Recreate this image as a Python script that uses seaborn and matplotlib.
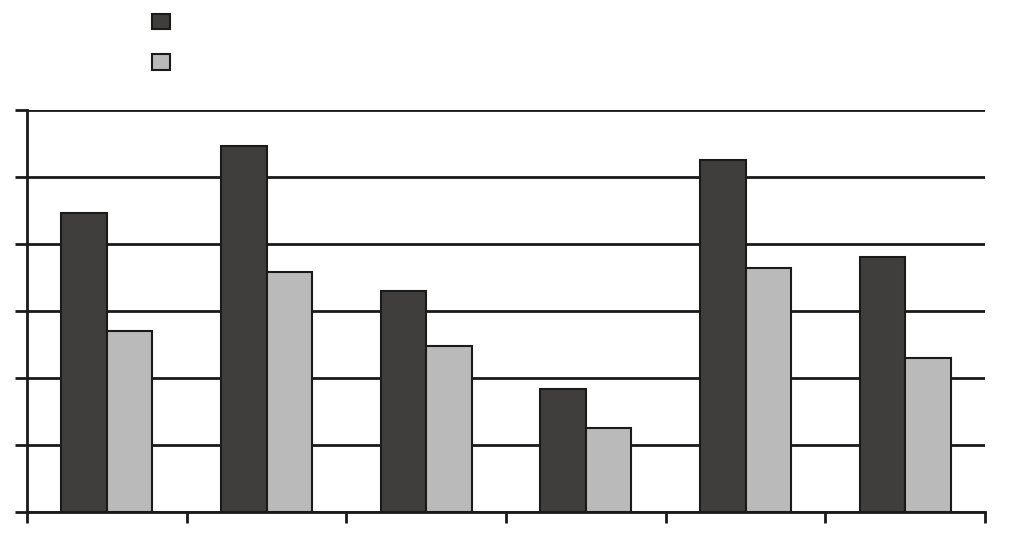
import pandas as pd
import matplotlib
matplotlib.use('Agg')
import matplotlib.pyplot as plt
import seaborn as sns

# Values (grid step = 1)
categorias = ['A', 'B', 'C', 'D', 'E', 'F']
serie_1 = [4.46, 5.46, 3.30, 1.84, 5.26, 3.81]
serie_2 = [2.70, 3.58, 2.48, 1.25, 3.64, 2.30]
nomes_series = ['Serie 1', 'Serie 2']

df = pd.DataFrame({
    'Categoria': categorias * 2,
    'Valor': serie_1 + serie_2,
    'Serie': [nomes_series[0]] * len(categorias) + [nomes_series[1]] * len(categorias),
})

sns.set_style('white')
fig = plt.figure(figsize=(10.24, 5.37), dpi=100)
ax = fig.add_axes([27 / 1024, 25 / 537, 958 / 1024, 402 / 537])

sns.barplot(data=df, x='Categoria', y='Valor', hue='Serie',
            palette=['#3f3e3d', '#bababa'], width=0.57,
            edgecolor='#1a1a1a', linewidth=1.5, ax=ax, zorder=3)

ax.set_xlim(-0.5, len(categorias) - 0.5)
ax.set_ylim(0, 6)
ax.set_yticks(range(0, 7))
ax.set_yticklabels([])
ax.set_xticks([i - 0.5 for i in range(len(categorias) + 1)])
ax.set_xticklabels([])
ax.set_xlabel('')
ax.set_ylabel('')
ax.grid(axis='y', color='#1a1a1a', linewidth=2, zorder=0)
ax.set_axisbelow(True)

for lado in ['top', 'right']:
    ax.spines[lado].set_visible(False)
for lado in ['left', 'bottom']:
    ax.spines[lado].set_color('#1a1a1a')
    ax.spines[lado].set_linewidth(2)
ax.tick_params(axis='y', direction='out', length=9, width=2, color='#1a1a1a', left=True)
ax.tick_params(axis='x', direction='out', length=8, width=2, color='#1a1a1a', bottom=True)

# Legend: only the swatches, no text
handles, _ = ax.get_legend_handles_labels()
ax.legend_.remove()
leg = fig.legend(handles, ['', ''], loc='upper left',
                 bbox_to_anchor=(139 / 1024, 1 - 1 / 537),
                 frameon=False, handlelength=1.35, handleheight=1.35,
                 labelspacing=1.8, handletextpad=0.2)
for h in leg.legend_handles:
    h.set_edgecolor('#1a1a1a')
    h.set_linewidth(1.5)

fig.savefig('out.png', dpi=100)
